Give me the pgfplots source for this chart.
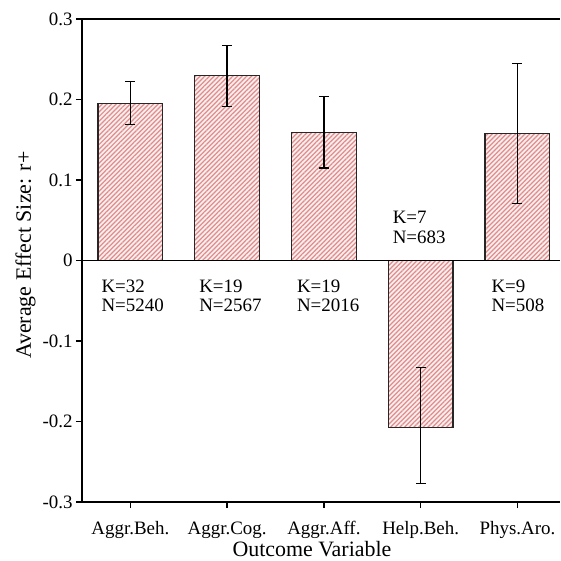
\documentclass[border=0pt]{standalone}
\usepackage{pgfplots}
\pgfplotsset{compat=1.18}
\usepackage{fontspec}
\setmainfont{Liberation Serif}
\usetikzlibrary{patterns.meta}

\definecolor{hatchred}{RGB}{222,140,140}
\definecolor{pinkbg}{RGB}{253,238,238}

\pgfplotstableread{
x   y       ep     em
0   0.195   0.027  0.026
1   0.230   0.037  0.039
2   0.159   0.045  0.044
3  -0.207   0.074  0.070
4   0.158   0.087  0.087
}\effects

\begin{document}
\begin{tikzpicture}
\begin{axis}[
  scale only axis,
  width=478bp, height=483bp,
  xmin=-0.5, xmax=4.44,
  ymin=-0.3, ymax=0.3,
  axis x line=bottom, axis y line=left,
  axis line style={-, line width=1.3bp, black},
  ybar, bar width=0.67,
  xtick={0,1,2,3,4},
  xticklabels={Aggr.Beh., Aggr.Cog., Aggr.Aff., Help.Beh., Phys.Aro.},
  ytick={-0.3,-0.2,-0.1,0,0.1,0.2,0.3},
  yticklabels={-0.3,-0.2,-0.1,0,0.1,0.2,0.3},
  tick align=outside, major tick length=6bp,
  tick style={black, line width=1.3bp},
  tick label style={font=\fontsize{19}{22}\selectfont},
  xticklabel style={yshift=-10bp},
  xlabel={Outcome Variable},
  ylabel={Average Effect Size: r+},
  every axis x label/.style={at={(rel axis cs:0.481,0)}, anchor=base, yshift=-54bp,
    font=\fontsize{22}{26}\selectfont},
  every axis y label/.style={at={(rel axis cs:-0.1067,0.511)}, anchor=base, rotate=90,
    font=\fontsize{22}{26}\selectfont},
  clip=false,
]
  \addplot[bar shift=0pt, fill=pinkbg, draw=none] table[x=x, y=y] {\effects};
  \addplot[bar shift=0pt, draw=black!85, line width=1.2bp,
    pattern={Lines[angle=45, distance=3.3bp, line width=1.2bp]}, pattern color=hatchred,
    error bars/.cd, y dir=both, y explicit,
    error bar style={line width=1.4bp, black},
    error mark options={rotate=90, mark size=5bp, line width=1.4bp, black}]
    table[x=x, y=y, y error plus=ep, y error minus=em] {\effects};

  \draw[line width=1.3bp] (axis cs:-0.5,0) -- (axis cs:4.44,0);
  \draw[line width=1.3bp] (rel axis cs:0,1) -- (rel axis cs:1,1);

  \begin{scope}[every node/.style={font=\fontsize{19}{22}\selectfont, inner sep=0pt, anchor=base west}]
    \node at (axis cs:-0.30,-0.0398) {K=32};
    \node at (axis cs:-0.30,-0.0634) {N=5240};
    \node at (axis cs:0.71,-0.0398) {K=19};
    \node at (axis cs:0.71,-0.0634) {N=2567};
    \node at (axis cs:1.72,-0.0398) {K=19};
    \node at (axis cs:1.72,-0.0634) {N=2016};
    \node at (axis cs:2.71,0.046) {K=7};
    \node at (axis cs:2.71,0.021) {N=683};
    \node at (axis cs:3.73,-0.0398) {K=9};
    \node at (axis cs:3.73,-0.0634) {N=508};
  \end{scope}

  \coordinate (sw) at (rel axis cs:0,0);
  \coordinate (ne) at (rel axis cs:1,1);
\end{axis}
\pgfresetboundingbox
\path[use as bounding box] ([xshift=-82bp,yshift=-59bp]sw) rectangle ([yshift=19bp]ne);
\end{tikzpicture}
\end{document}
